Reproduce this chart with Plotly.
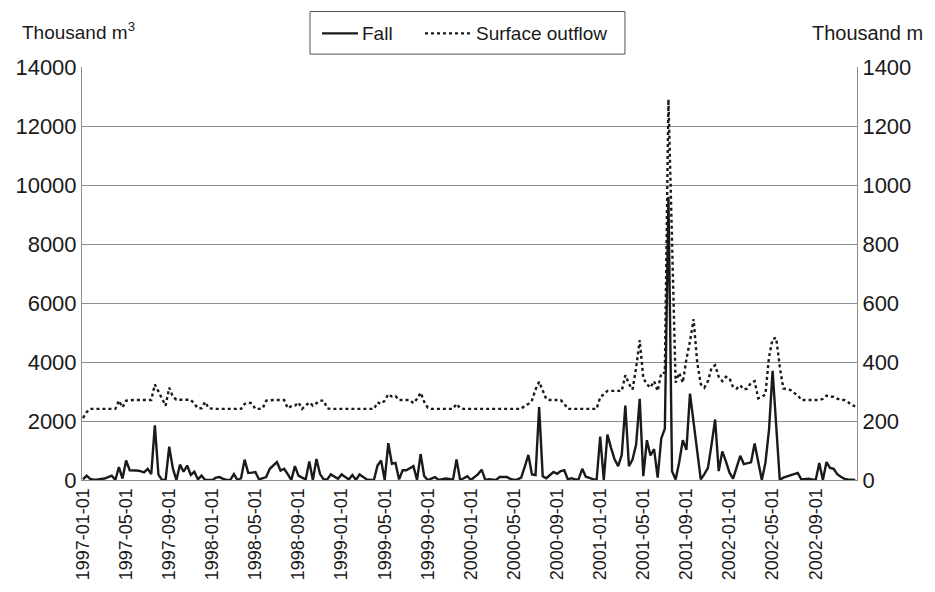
import datetime as dt
import plotly.graph_objects as go

# Dekadal series, 1997-01-01 .. 2002-12-21 (three readings per month)
years = [1997, 1998, 1999, 2000, 2001, 2002]
dekad_days = [1, 11, 21]
dates = [dt.date(y, m, d).isoformat() for y in years for m in range(1, 13) for d in dekad_days]

# Fall, thousand m3 (left axis)
fall = [
    20, 150, 40, 10, 20, 30, 50, 100, 150, 0, 440, 50,
    660, 330, 330, 320, 300, 260, 380, 200, 1850, 180, 0, 0,
    1130, 400, 0, 520, 280, 490, 170, 280, 20, 150, 0, 0,
    0, 80, 100, 40, 0, 0, 200, 0, 60, 690, 240, 250,
    270, 20, 50, 100, 380, 500, 610, 320, 380, 200, 0, 470,
    150, 80, 20, 630, 0, 710, 200, 20, 20, 190, 100, 40,
    190, 100, 20, 170, 0, 190, 100, 20, 0, 0, 490, 660,
    0, 1250, 550, 580, 20, 330, 330, 400, 470, 0, 880, 130,
    0, 50, 100, 0, 30, 50, 40, 0, 700, 0, 60, 130,
    0, 100, 200, 350, 0, 30, 10, 0, 100, 100, 100, 40,
    0, 20, 80, 450, 850, 190, 170, 2470, 130, 60, 150, 270,
    210, 300, 330, 20, 60, 20, 30, 380, 110, 60, 30, 0,
    1470, 0, 1540, 1100, 700, 470, 850, 2520, 470, 690, 1200, 2750,
    130, 1350, 830, 1050, 80, 1410, 1740, 9600, 300, 20, 600, 1350,
    1020, 2930, 2000, 1000, 20, 200, 410, 1200, 2050, 300, 970, 630,
    250, 50, 400, 820, 540, 560, 600, 1240, 600, 0, 580, 1700,
    3700, 1900, 0, 80, 120, 160, 200, 240, 20, 30, 40, 20,
    0, 580, 0, 610, 410, 380, 200, 110, 40, 20, 10, 0,
]

# Surface outflow, thousand m3 (right axis)
outflow = [
    210, 230, 241, 241, 241, 241, 241, 241, 241, 241, 269, 246,
    269, 271, 271, 271, 271, 271, 271, 271, 324, 300, 275, 252,
    313, 283, 272, 272, 272, 272, 272, 258, 243, 243, 265, 243,
    241, 241, 241, 241, 241, 241, 241, 241, 241, 258, 263, 260,
    241, 241, 243, 269, 271, 271, 271, 271, 271, 243, 250, 252,
    263, 241, 252, 263, 252, 260, 269, 269, 243, 241, 241, 241,
    241, 241, 241, 241, 241, 241, 241, 241, 241, 241, 263, 258,
    269, 291, 283, 285, 271, 271, 271, 271, 260, 275, 296, 265,
    245, 241, 241, 241, 241, 241, 241, 241, 258, 243, 241, 241,
    241, 241, 241, 241, 241, 241, 241, 241, 241, 241, 241, 241,
    241, 241, 241, 252, 258, 270, 307, 333, 300, 274, 271, 271,
    271, 271, 258, 241, 241, 241, 241, 241, 241, 241, 241, 241,
    280, 290, 302, 302, 302, 302, 302, 355, 326, 307, 380, 474,
    346, 324, 313, 335, 302, 363, 363, 1290, 850, 330, 363, 330,
    410, 470, 545, 400, 325, 313, 335, 380, 389, 350, 335, 350,
    345, 314, 310, 321, 307, 310, 330, 335, 277, 282, 290, 417,
    478, 482, 383, 310, 308, 305, 295, 288, 271, 271, 271, 271,
    271, 271, 275, 286, 282, 282, 276, 271, 271, 264, 254, 250,
]

series_names = ["Fall", "Surface outflow"]
tick_dates = dates[::12]

FONT = "Liberation Sans, Arial, sans-serif"
INK = "#1a1a1a"
GRID = "#8c8c8c"
LINE_W = 2.4
DOT = "3px,3px"

fig = go.Figure()
fig.add_trace(go.Scatter(
    x=dates, y=fall, name=series_names[0], mode="lines",
    line=dict(color=INK, width=LINE_W),
    yaxis="y", showlegend=False,
))
fig.add_trace(go.Scatter(
    x=dates, y=outflow, name=series_names[1], mode="lines",
    line=dict(color=INK, width=LINE_W, dash=DOT),
    yaxis="y2", showlegend=False,
))

# Boxed key above the plot: border, line samples and labels
key_y = 1.0815
shapes = [
    dict(type="rect", xref="paper", yref="paper",
         x0=0.2942, x1=0.7006, y0=1.0312, y1=1.1343,
         line=dict(color="#555555", width=1), fillcolor="white", layer="above"),
    dict(type="line", xref="paper", yref="paper",
         x0=0.3097, x1=0.3561, y0=key_y, y1=key_y,
         line=dict(color=INK, width=LINE_W)),
    dict(type="line", xref="paper", yref="paper",
         x0=0.4426, x1=0.5019, y0=key_y, y1=key_y,
         line=dict(color=INK, width=LINE_W, dash=DOT)),
]
key_labels = [
    dict(text=series_names[0], xref="paper", yref="paper",
         x=0.3587, y=key_y, xanchor="left", yanchor="middle",
         showarrow=False, font=dict(size=19, family=FONT, color=INK)),
    dict(text=series_names[1], xref="paper", yref="paper",
         x=0.5058, y=key_y, xanchor="left", yanchor="middle",
         showarrow=False, font=dict(size=19, family=FONT, color=INK)),
]

fig.update_layout(
    width=935, height=592,
    margin=dict(l=82, r=78, t=67, b=108),
    paper_bgcolor="white", plot_bgcolor="white",
    font=dict(family=FONT, color=INK),
    showlegend=False,
    xaxis=dict(
        type="category",
        range=[-0.28, 215.5],
        tickmode="array",
        tickvals=tick_dates,
        ticktext=tick_dates,
        tickangle=-90,
        tickfont=dict(size=18, family=FONT),
        showgrid=False,
        showline=True, linecolor=GRID, linewidth=1,
        ticks="",
        zeroline=False,
    ),
    yaxis=dict(
        range=[0, 14000],
        dtick=2000,
        tickformat="d",
        tickfont=dict(size=22, family=FONT),
        showgrid=True, gridcolor=GRID, gridwidth=1,
        showline=True, linecolor=GRID, linewidth=1, mirror=True,
        zeroline=False,
        ticks="",
    ),
    yaxis2=dict(
        range=[0, 1400],
        dtick=200,
        tickformat="d",
        overlaying="y",
        side="right",
        tickfont=dict(size=22, family=FONT),
        showgrid=False,
        showline=True, linecolor=GRID, linewidth=1,
        zeroline=False,
        ticks="",
    ),
    shapes=shapes,
    annotations=key_labels + [
        dict(text="Thousand m<sup>3</sup>", xref="paper", yref="paper",
             x=-0.08, y=1.086, xanchor="left", yanchor="middle",
             showarrow=False, font=dict(size=19, family=FONT, color=INK)),
        dict(text="Thousand m", xref="paper", yref="paper",
             x=0.939, y=1.082, xanchor="left", yanchor="middle",
             showarrow=False, font=dict(size=20, family=FONT, color=INK)),
    ],
)

fig.write_html("out.html")
